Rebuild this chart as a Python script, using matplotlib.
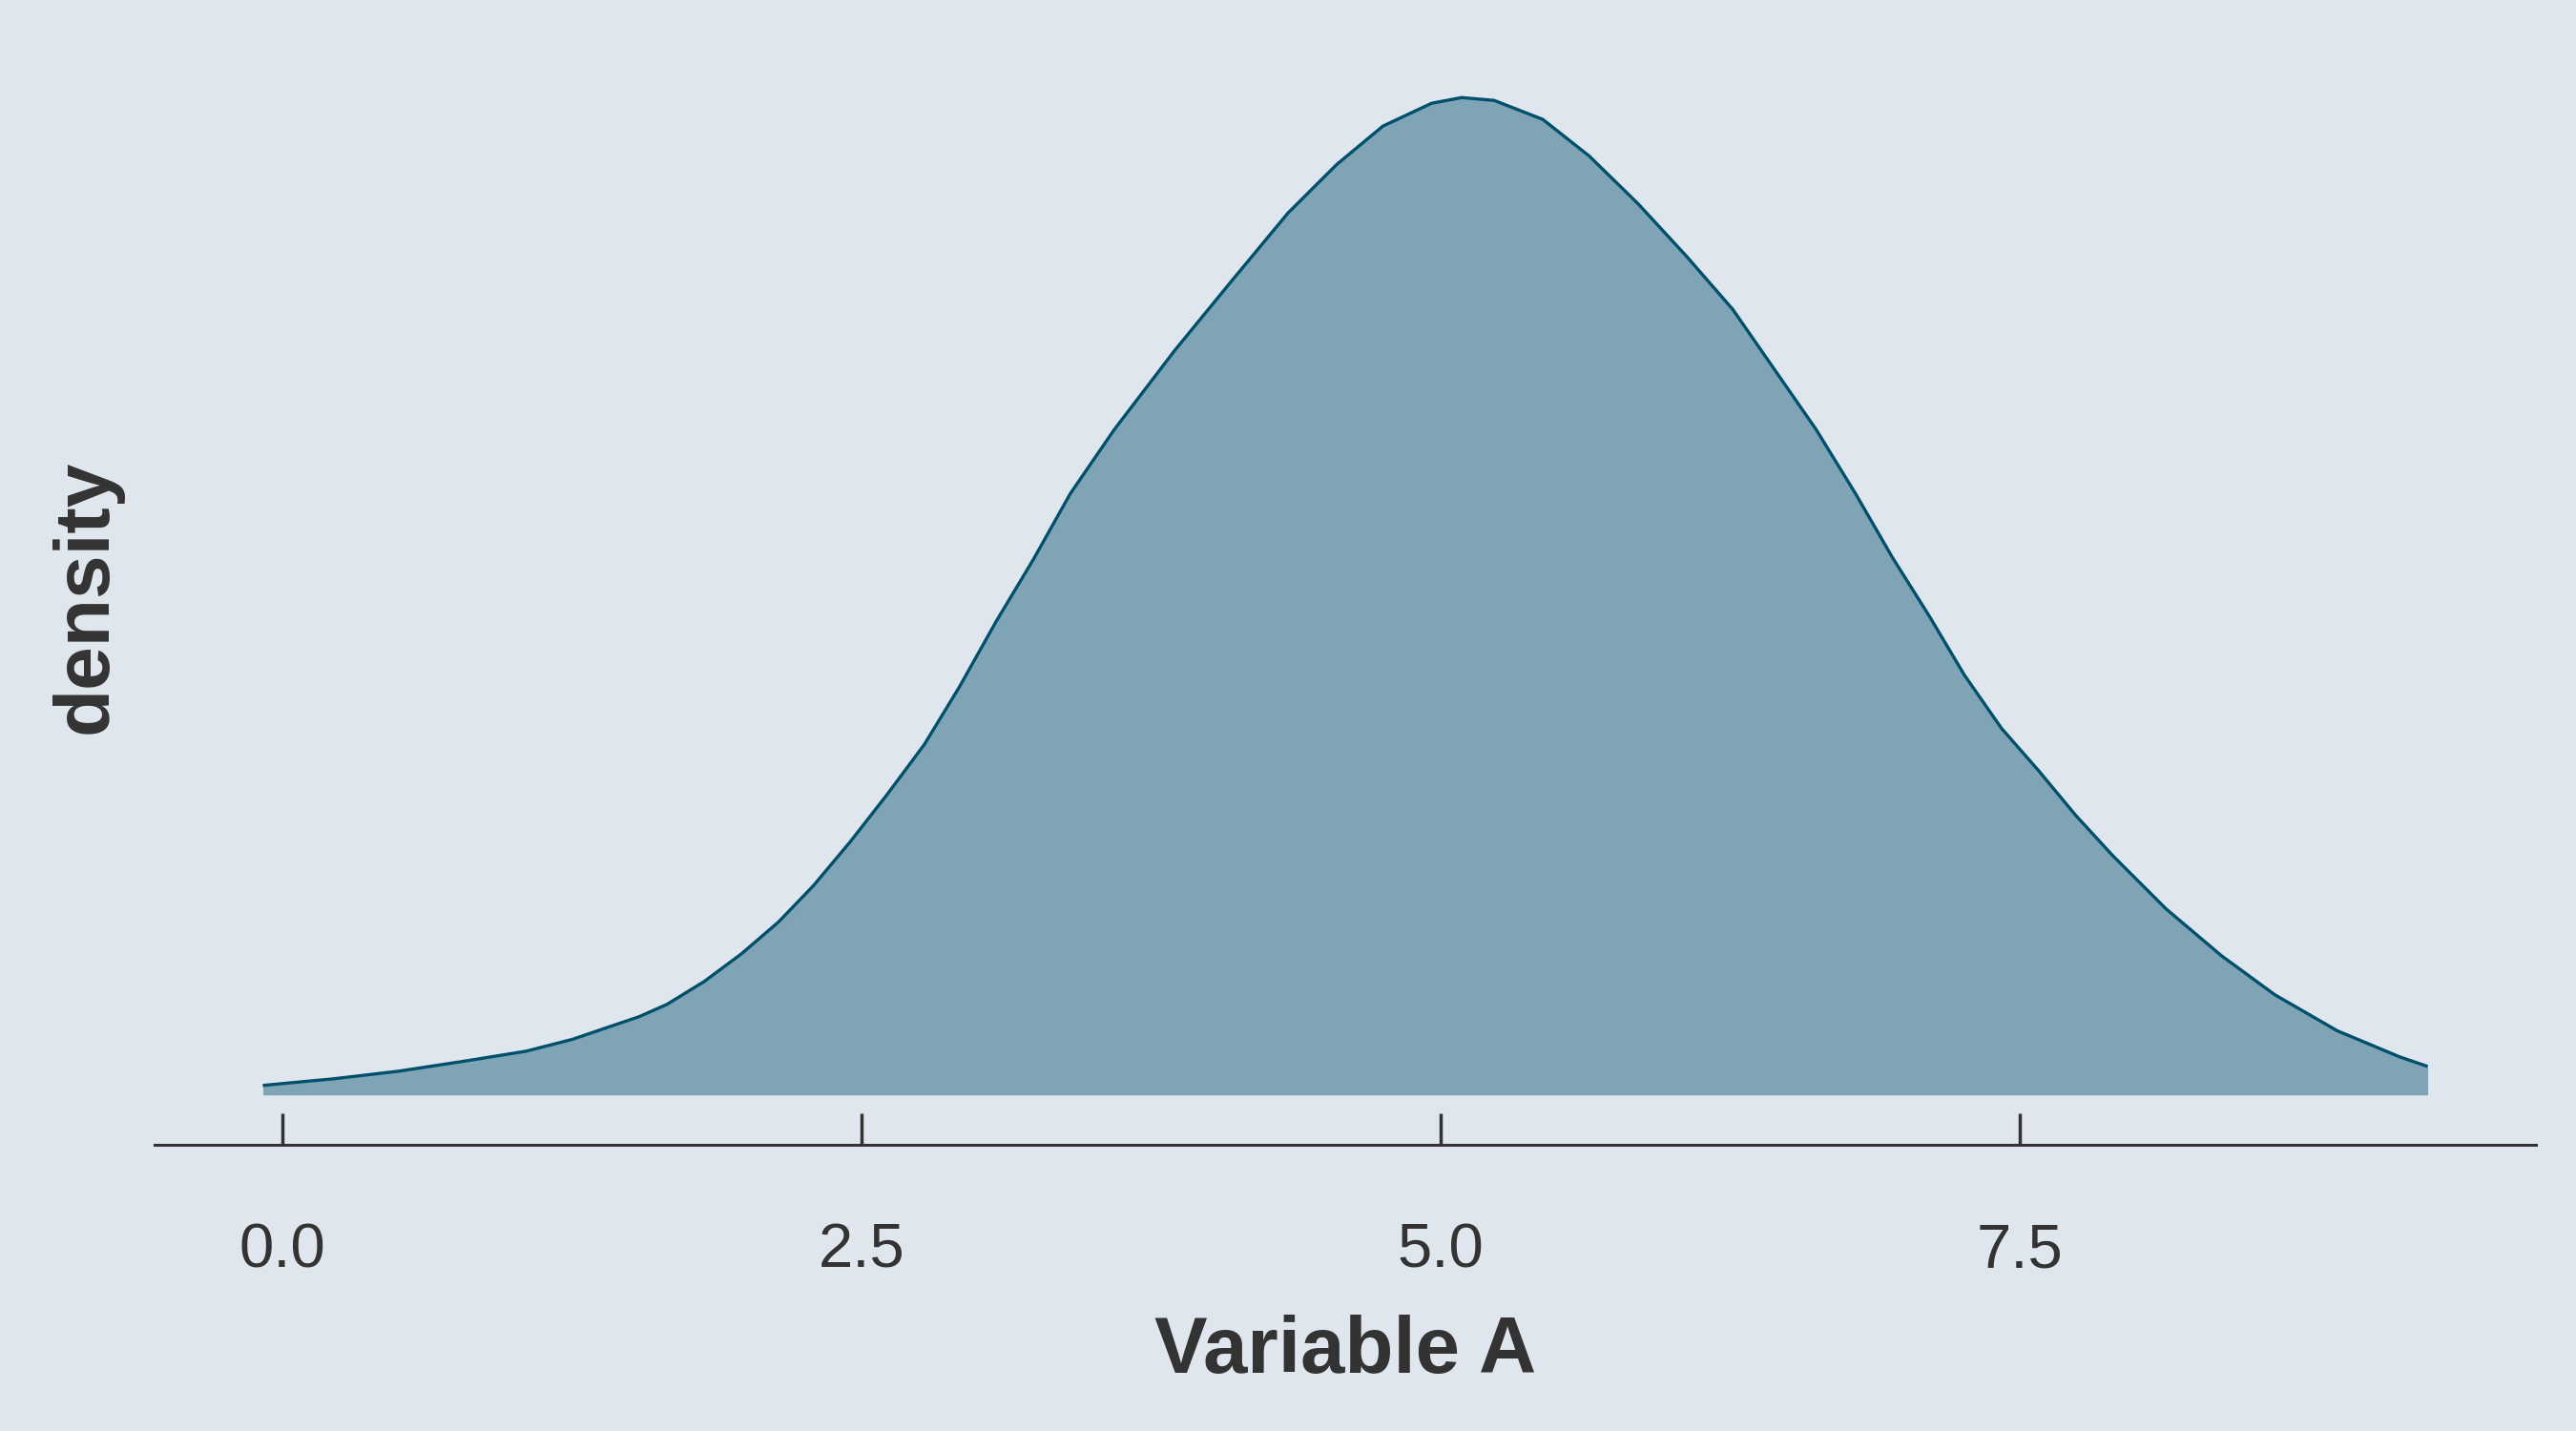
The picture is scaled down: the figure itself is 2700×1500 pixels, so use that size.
#!/usr/bin/env python3
"""
Density curve of Variable A, ggplot-like look on a pale blue-grey background
"""

import matplotlib
matplotlib.use('Agg')
import matplotlib.pyplot as plt

# Values
variable_a = [-0.086, 0.22, 0.50, 0.77, 1.05, 1.25, 1.54, 1.66, 1.82, 1.98,
              2.14, 2.29, 2.45, 2.61, 2.77, 2.92, 3.08, 3.24, 3.40, 3.59,
              3.85, 4.09, 4.34, 4.55, 4.75, 4.96, 5.09, 5.23, 5.44, 5.64,
              5.85, 6.06, 6.26, 6.62, 6.79, 6.95, 7.11, 7.26, 7.42, 7.58,
              7.74, 7.90, 8.13, 8.37, 8.60, 8.87, 9.14, 9.26]
density = [0.0020, 0.0034, 0.0050, 0.0070, 0.0092, 0.0117, 0.0165, 0.0191, 0.0239, 0.0297,
           0.0364, 0.0440, 0.0533, 0.0633, 0.0738, 0.0858, 0.0997, 0.1127, 0.1266, 0.1401,
           0.1567, 0.1710, 0.1857, 0.1959, 0.2040, 0.2088, 0.2100, 0.2094, 0.2054, 0.1977,
           0.1877, 0.1766, 0.1654, 0.1401, 0.1266, 0.1131, 0.1007, 0.0884, 0.0772, 0.0683,
           0.0589, 0.0504, 0.0392, 0.0293, 0.0211, 0.0135, 0.0080, 0.0060]

x_ticks = [0.0, 2.5, 5.0, 7.5]
x_tick_labels = ['0.0', '2.5', '5.0', '7.5']

BG = '#dfe6ed'
FILL = '#7fa4b6'
LINE = '#01506b'
INK = '#333333'

plt.rcParams['font.family'] = ['Liberation Sans', 'DejaVu Sans']

fig = plt.figure(figsize=(27, 15), dpi=100, facecolor=BG)
ax = fig.add_axes([0.06, 0.2, 0.92444, 0.76667])
ax.set_facecolor(BG)

ax.fill_between(variable_a, 0, density, color=FILL, linewidth=0)
ax.plot(variable_a, density, color=LINE, linewidth=2.4,
        solid_capstyle='butt', solid_joinstyle='round')

# ggplot style 5% expansion on both axes
x_span = max(variable_a) - min(variable_a)
ax.set_xlim(min(variable_a) - 0.05 * x_span, max(variable_a) + 0.05 * x_span)
peak = max(density)
ax.set_ylim(-0.05 * peak, 1.05 * peak)

ax.set_xticks(x_ticks)
ax.set_xticklabels(x_tick_labels)
ax.set_yticks([])
ax.tick_params(axis='x', direction='in', length=24, width=2.5, color=INK,
               labelsize=47, labelcolor=INK, pad=59)

for side in ['top', 'right', 'left']:
    ax.spines[side].set_visible(False)
ax.spines['bottom'].set_color(INK)
ax.spines['bottom'].set_linewidth(2.2)

ax.set_xlabel('Variable A', fontsize=60, fontweight='bold', color=INK, labelpad=26)
ax.set_ylabel('density', fontsize=59, fontweight='bold', color=INK, labelpad=24)

plt.savefig('out.png', dpi=100, facecolor=BG)
print("Saved out.png")
